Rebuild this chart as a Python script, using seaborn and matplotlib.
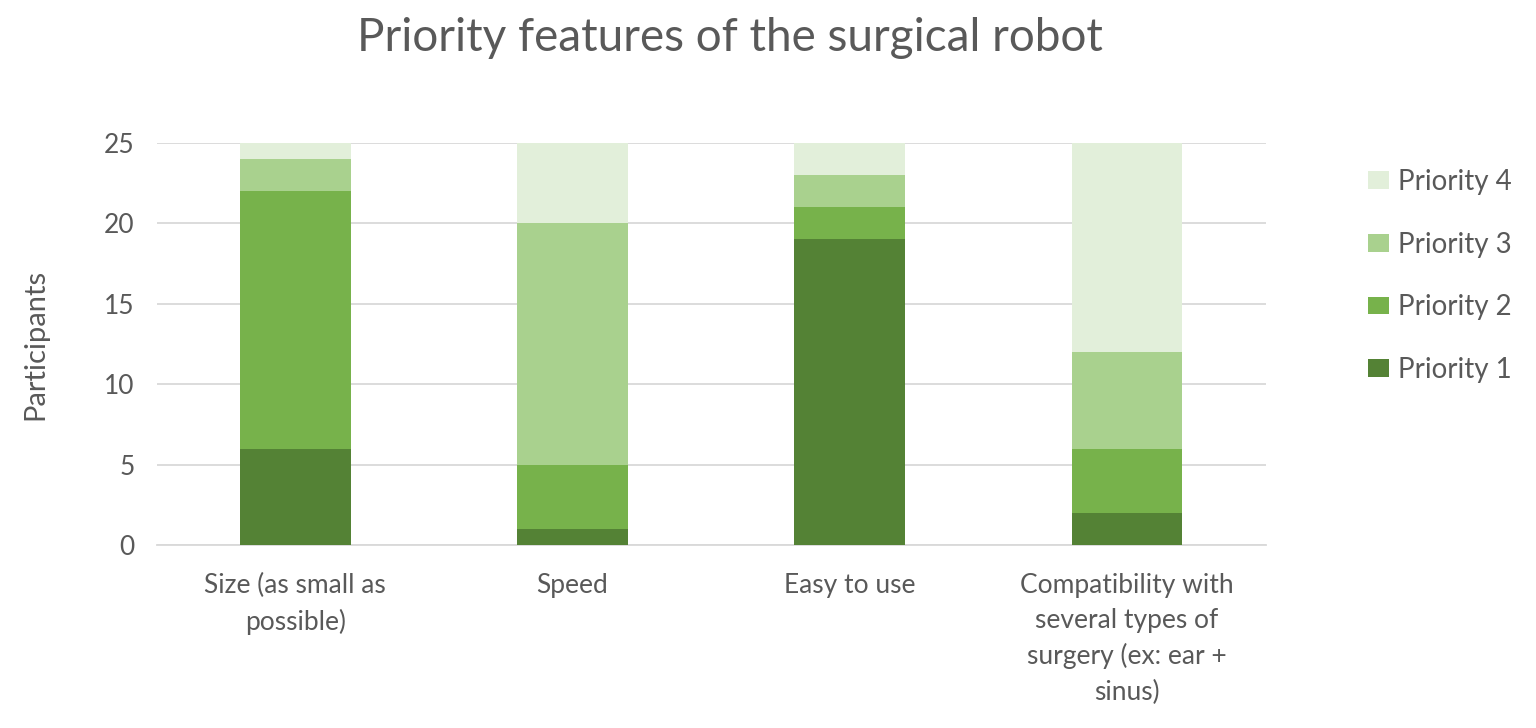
import numpy as np
import pandas as pd
import matplotlib
matplotlib.use("Agg")
import matplotlib.pyplot as plt
import seaborn as sns
from matplotlib.patches import Patch

# --- dados ---
categorias = [
    "Size (as small as\npossible)",
    "Speed",
    "Easy to use",
    "Compatibility with\nseveral types of\nsurgery (ex: ear +\nsinus)",
]
prioridade_1 = [6, 1, 19, 2]
prioridade_2 = [16, 4, 2, 4]
prioridade_3 = [2, 15, 2, 6]
prioridade_4 = [1, 5, 2, 13]
series = ["Priority 1", "Priority 2", "Priority 3", "Priority 4"]
cores = ["#548235", "#77B24B", "#A9D18E", "#E2EFDA"]

df = pd.DataFrame({
    "categoria": categorias,
    "Priority 1": prioridade_1,
    "Priority 2": prioridade_2,
    "Priority 3": prioridade_3,
    "Priority 4": prioridade_4,
})
# somas acumuladas para empilhar
acum = df[series].cumsum(axis=1)

sns.set_style("white")
plt.rcParams["font.family"] = ["Lato", "DejaVu Sans"]
texto = "#595959"

fig = plt.figure(figsize=(15.36, 7.28), dpi=100)
ax = fig.add_axes([0.102, 0.2514, 0.722, 0.5522])

# desenha do topo para a base (a maior barra primeiro)
for s, c in zip(series[::-1], cores[::-1]):
    sns.barplot(x=df["categoria"], y=acum[s], color=c, width=0.4,
                saturation=1, linewidth=0, ax=ax, zorder=3)

ax.set_ylim(0, 25)
ax.set_yticks([0, 5, 10, 15, 20, 25])
ax.yaxis.grid(True, color="#D9D9D9", linewidth=1.3, zorder=0)
ax.set_axisbelow(True)
for sp in ["top", "right", "left"]:
    ax.spines[sp].set_visible(False)
ax.spines["bottom"].set_color("#D9D9D9")
ax.spines["bottom"].set_linewidth(1.3)
ax.tick_params(axis="both", length=0, labelsize=19, colors=texto)
ax.tick_params(axis="y", pad=16)
ax.tick_params(axis="x", pad=20)
for t in ax.get_xticklabels():
    t.set_linespacing(1.5)
ax.set_xlabel("")
ax.set_ylabel("Participants", fontsize=21, color=texto, labelpad=40)

fig.text(0.475, 0.948, "Priority features of the surgical robot",
         fontsize=33, color=texto, ha="center", va="center")

handles = [Patch(facecolor=c, edgecolor="none") for c in cores[::-1]]
leg = ax.legend(handles, series[::-1], loc="upper left",
                bbox_to_anchor=(1.092, 0.935), frameon=False, fontsize=20,
                labelspacing=1.32, handlelength=0.75, handleheight=0.6,
                handletextpad=0.35, borderpad=0, borderaxespad=0)
for t in leg.get_texts():
    t.set_color(texto)

plt.savefig("out.png", dpi=100)
